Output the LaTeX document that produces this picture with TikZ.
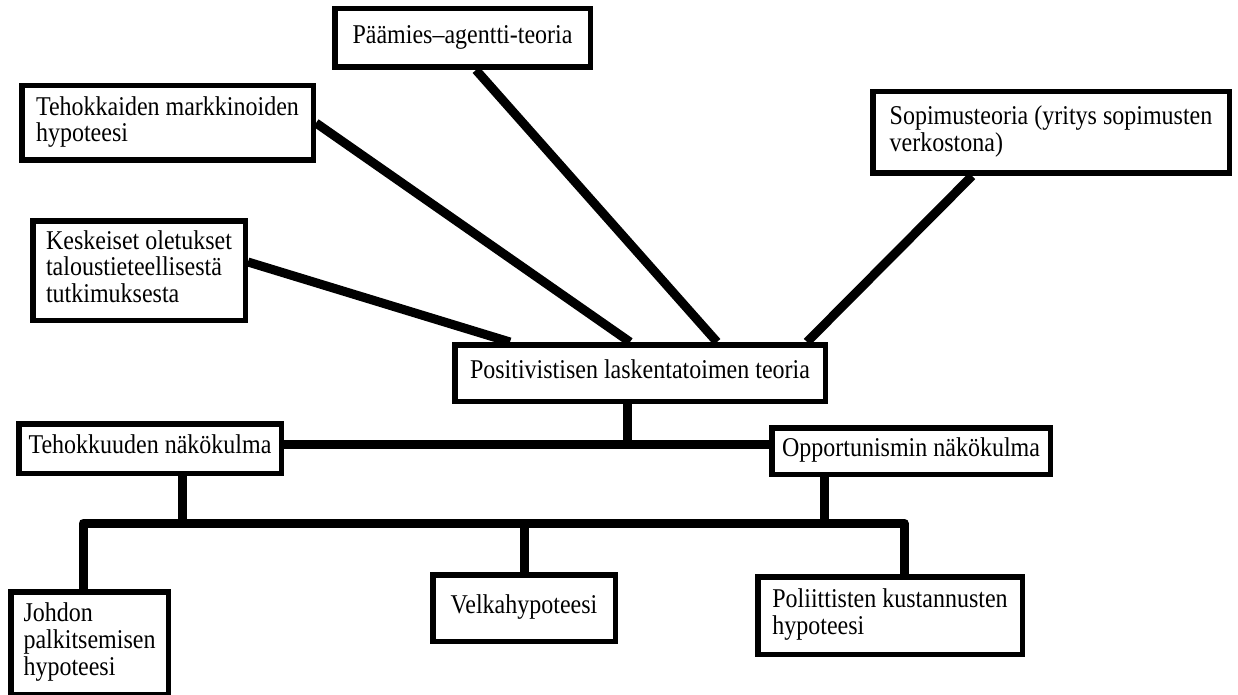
\documentclass[tikz,border=0pt]{standalone}
\usepackage{fontspec}
\usepackage{graphicx}
\setmainfont{Liberation Serif}
\usetikzlibrary{positioning}
\newcommand{\rivit}[1]{\scalebox{1}[1.13]{\begin{tabular}{@{}l@{}}#1\end{tabular}}}

\begin{document}
\begin{tikzpicture}[x=1pt, y=-1pt,
  box/.style={draw, line width=5.5pt, inner sep=0pt,
    font=\fontsize{24}{23.5}\selectfont},
  yhteys/.style={line width=9pt, line join=round}]
  \useasboundingbox[fill=white] (0,0) rectangle (1238,695);

  \node[box, minimum width=255.5pt, minimum height=58.5pt] (paamies) at (462.5,38) {\rivit{Päämies–agentti-teoria}};
  \node[box, minimum width=291.5pt, minimum height=74.5pt] (markkinat) at (167.5,123) {\rivit{Tehokkaiden markkinoiden\\hypoteesi}};
  \node[box, minimum width=212.5pt, minimum height=99.5pt] (oletukset) at (139,270.5) {\rivit{Keskeiset oletukset\\taloustieteellisestä\\tutkimuksesta}};
  \node[box, minimum width=356.5pt, minimum height=81.5pt] (sopimus) at (1051,132.5) {\rivit{Sopimusteoria (yritys sopimusten\\verkostona)}};
  \node[box, minimum width=370.5pt, minimum height=56.5pt] (plt) at (640,373) {\rivit{Positivistisen laskentatoimen teoria}};
  \node[box, minimum width=262.5pt, minimum height=49.5pt] (tehokkuus) at (150,448.5) {\rivit{Tehokkuuden näkökulma}};
  \node[box, minimum width=278.5pt, minimum height=46.5pt] (opportunismi) at (911,451) {\rivit{Opportunismin näkökulma}};
  \node[box, minimum width=157.5pt, minimum height=102.5pt] (johdon) at (89.5,643) {\rivit{Johdon\\palkitsemisen\\hypoteesi}};
  \node[box, minimum width=182.5pt, minimum height=66.5pt] (velka) at (524,608) {\rivit{Velkahypoteesi}};
  \node[box, minimum width=264.5pt, minimum height=77.5pt] (poliittiset) at (890,615.5) {\rivit{Poliittisten kustannusten\\hypoteesi}};

  \draw[yhteys] ([yshift=8.5pt]oletukset.east) -- ([xshift=-130pt]plt.north);
  \draw[yhteys] (markkinat.east) -- ([xshift=-10pt]plt.north);
  \draw[yhteys] ([xshift=13.5pt]paamies.south) -- ([xshift=77pt]plt.north);
  \draw[yhteys] ([xshift=-79pt]sopimus.south) -- ([xshift=167pt]plt.north);

  \coordinate (haara) at (627,444);
  \coordinate (vasen) at (83,523);
  \coordinate (oikea) at (904,523);
  \draw[yhteys] ([xshift=-13pt]plt.south) -- (haara);
  \draw[yhteys] (tehokkuus.east |- haara) -- (opportunismi.west |- haara);
  \draw[yhteys] (johdon.north -| vasen) |- (oikea) -- (poliittiset.north -| oikea);
  \draw[yhteys] ([xshift=32pt]tehokkuus.south) -- ([xshift=32pt]tehokkuus.south |- vasen);
  \draw[yhteys] ([xshift=-87pt]opportunismi.south) -- ([xshift=-87pt]opportunismi.south |- vasen);
  \draw[yhteys] (velka.north) -- (velka.north |- vasen);
\end{tikzpicture}
\end{document}
